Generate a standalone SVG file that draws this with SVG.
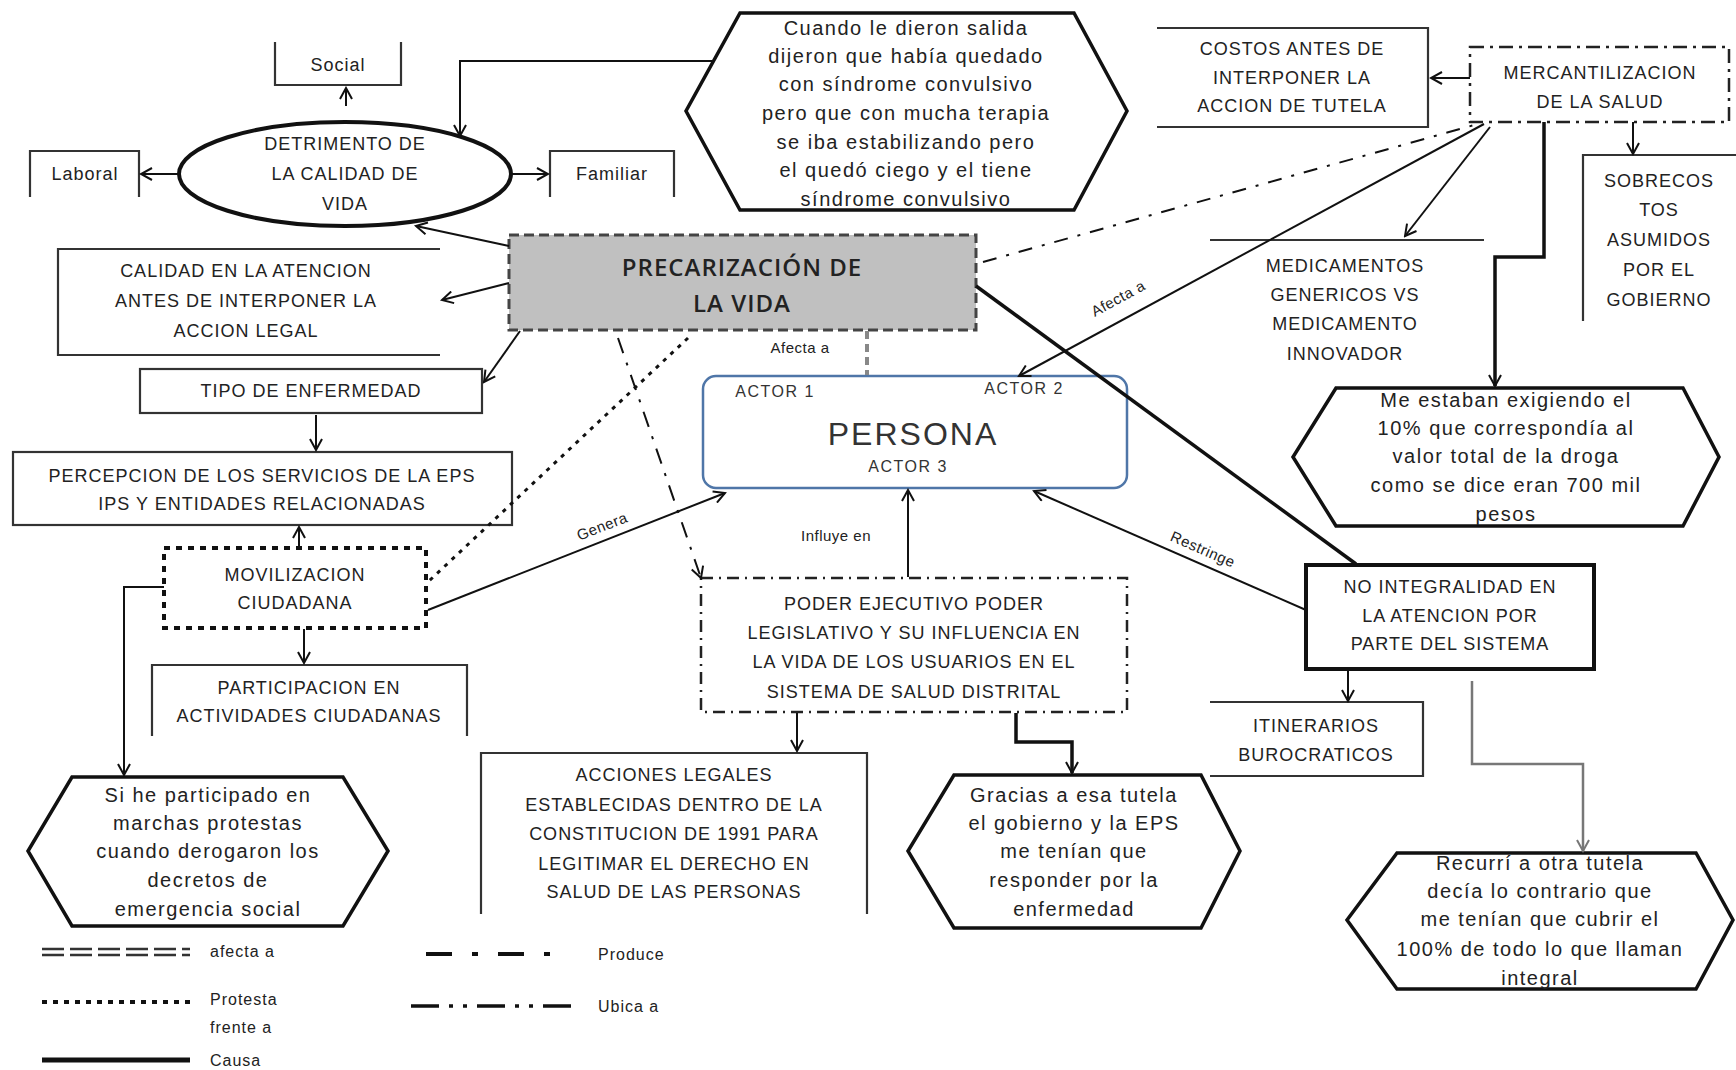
<svg xmlns="http://www.w3.org/2000/svg" width="1736" height="1070" viewBox="0 0 1736 1070">
<defs>
<style>
.box{fill:#fff;stroke:#333;stroke-width:2.2}
.open{fill:none;stroke:#333;stroke-width:2.2}
.hex{fill:#fff;stroke:#111;stroke-width:3.5}
.t{font-family:"Liberation Sans",Arial,sans-serif;font-size:18px;letter-spacing:1px;fill:#222;text-anchor:middle;dominant-baseline:central}
.tl{font-family:"Liberation Sans",Arial,sans-serif;font-size:20px;letter-spacing:1.5px;fill:#222;text-anchor:middle;dominant-baseline:central}
.lb{font-family:"Liberation Sans",Arial,sans-serif;font-size:15px;letter-spacing:0.5px;fill:#222;text-anchor:middle;dominant-baseline:central}
.lg{font-family:"Liberation Sans",Arial,sans-serif;font-size:16px;letter-spacing:1px;fill:#222;text-anchor:start;dominant-baseline:central}
.c{fill:none;stroke:#111;stroke-width:2}
.ck{fill:none;stroke:#111;stroke-width:3.5}
</style>
<marker id="arr" viewBox="0 0 14 14" markerWidth="14" markerHeight="14" refX="12" refY="7" orient="auto" markerUnits="userSpaceOnUse">
<path d="M1,1 L12,7 L1,13" fill="none" stroke="#111" stroke-width="2"/>
</marker>
<marker id="arrg" viewBox="0 0 14 14" markerWidth="14" markerHeight="14" refX="12" refY="7" orient="auto" markerUnits="userSpaceOnUse">
<path d="M1,1 L12,7 L1,13" fill="none" stroke="#777" stroke-width="2"/>
</marker>
</defs>
<rect width="1736" height="1070" fill="#fff"/>

<g id="social"><path class="open" d="M275,42 V85 H401 V42"/><text class="t" x="338" y="65">Social</text></g>
<g id="detrimento"><ellipse cx="345" cy="174" rx="166" ry="52" fill="#fff" stroke="#111" stroke-width="4"/>
<text class="t" x="345" y="144">DETRIMENTO DE</text><text class="t" x="345" y="174">LA CALIDAD DE</text><text class="t" x="345" y="204">VIDA</text></g>
<g id="laboral"><path class="open" d="M30,197 V151 H139 V197"/><text class="t" x="85" y="174">Laboral</text></g>
<g id="familiar"><path class="open" d="M550,197 V151 H674 V197"/><text class="t" x="612" y="174">Familiar</text></g>

<g id="hex-cuando"><polygon class="hex" points="740,13 1074,13 1127,111 1074,210 740,210 686,111"/>
<text class="tl" x="906" y="28">Cuando le dieron salida</text>
<text class="tl" x="906" y="56">dijeron que había quedado</text>
<text class="tl" x="906" y="84">con síndrome convulsivo</text>
<text class="tl" x="906" y="113">pero que con mucha terapia</text>
<text class="tl" x="906" y="142">se iba estabilizando pero</text>
<text class="tl" x="906" y="170">el quedó ciego y el tiene</text>
<text class="tl" x="906" y="199">síndrome convulsivo</text></g>

<g id="costos"><path class="open" d="M1157,28 H1428 V127 H1157"/>
<text class="t" x="1292" y="49">COSTOS ANTES DE</text><text class="t" x="1292" y="78">INTERPONER LA</text><text class="t" x="1292" y="106">ACCION DE TUTELA</text></g>

<g id="mercantilizacion"><rect x="1470" y="47" width="259" height="75" fill="#fff" stroke="#222" stroke-width="2.5" stroke-dasharray="14 6 3 6"/>
<text class="t" x="1600" y="73">MERCANTILIZACION</text><text class="t" x="1600" y="102">DE LA SALUD</text></g>

<g id="sobrecostos"><path class="open" d="M1583,321 V155 H1736"/>
<text class="t" x="1659" y="181">SOBRECOS</text><text class="t" x="1659" y="210">TOS</text><text class="t" x="1659" y="240">ASUMIDOS</text><text class="t" x="1659" y="270">POR EL</text><text class="t" x="1659" y="300">GOBIERNO</text></g>

<g id="medicamentos"><path class="open" d="M1210,240 H1484"/>
<text class="t" x="1345" y="266">MEDICAMENTOS</text><text class="t" x="1345" y="295">GENERICOS VS</text><text class="t" x="1345" y="324">MEDICAMENTO</text><text class="t" x="1345" y="354">INNOVADOR</text></g>

<g id="precarizacion"><rect x="509" y="235" width="467" height="95" fill="#c0c0c0" stroke="#444" stroke-width="3" stroke-dasharray="10 5"/>
<text x="742" y="266" font-family="'Open Sans',sans-serif" font-size="24" font-weight="600" letter-spacing="1" fill="#222" text-anchor="middle" dominant-baseline="central">PRECARIZACIÓN  DE</text>
<text x="742" y="302" font-family="'Open Sans',sans-serif" font-size="24" font-weight="600" letter-spacing="1" fill="#222" text-anchor="middle" dominant-baseline="central">LA VIDA</text></g>

<g id="calidad"><path class="open" d="M440,249 H58 V355 H440"/>
<text class="t" x="246" y="271">CALIDAD EN LA ATENCION</text><text class="t" x="246" y="301">ANTES DE INTERPONER LA</text><text class="t" x="246" y="331">ACCION LEGAL</text></g>

<g id="tipo"><rect class="box" x="140" y="369" width="342" height="44"/><text class="t" x="311" y="391">TIPO DE ENFERMEDAD</text></g>

<g id="percepcion"><rect class="box" x="13" y="452" width="499" height="73"/>
<text class="t" x="262" y="476">PERCEPCION DE LOS SERVICIOS DE LA EPS</text><text class="t" x="262" y="504">IPS Y ENTIDADES RELACIONADAS</text></g>

<g id="movilizacion"><rect x="164" y="548" width="262" height="80" fill="#fff" stroke="#111" stroke-width="4" stroke-dasharray="6 6"/>
<text class="t" x="295" y="575">MOVILIZACION</text><text class="t" x="295" y="603">CIUDADANA</text></g>

<g id="participacion"><path class="open" d="M152,736 V665 H467 V736"/>
<text class="t" x="309" y="688">PARTICIPACION EN</text><text class="t" x="309" y="716">ACTIVIDADES CIUDADANAS</text></g>

<g id="hex-marchas"><polygon class="hex" points="72,777 343,777 388,851 343,926 72,926 28,851"/>
<text class="tl" x="208" y="795">Si he participado en</text>
<text class="tl" x="208" y="823">marchas protestas</text>
<text class="tl" x="208" y="851">cuando derogaron los</text>
<text class="tl" x="208" y="880">decretos de</text>
<text class="tl" x="208" y="909">emergencia social</text></g>

<g id="persona"><rect x="703" y="376" width="424" height="112" rx="13" fill="#fff" stroke="#4f76a8" stroke-width="2.5"/>
<text x="775" y="391" font-family="'Liberation Sans',Arial,sans-serif" font-size="16" letter-spacing="1.5" fill="#333" text-anchor="middle" dominant-baseline="central">ACTOR 1</text>
<text x="1024" y="388" font-family="'Liberation Sans',Arial,sans-serif" font-size="16" letter-spacing="1.5" fill="#333" text-anchor="middle" dominant-baseline="central">ACTOR 2</text>
<text x="913" y="434" font-family="'Liberation Sans',Arial,sans-serif" font-size="32" letter-spacing="2" fill="#333" text-anchor="middle" dominant-baseline="central">PERSONA</text>
<text x="908" y="466" font-family="'Liberation Sans',Arial,sans-serif" font-size="16" letter-spacing="1.5" fill="#333" text-anchor="middle" dominant-baseline="central">ACTOR 3</text></g>

<g id="poder"><rect x="701" y="578" width="426" height="134" fill="#fff" stroke="#222" stroke-width="2.5" stroke-dasharray="12 6 2 6"/>
<text class="t" x="914" y="604">PODER EJECUTIVO PODER</text>
<text class="t" x="914" y="633">LEGISLATIVO Y SU INFLUENCIA EN</text>
<text class="t" x="914" y="662">LA VIDA DE LOS USUARIOS EN EL</text>
<text class="t" x="914" y="692">SISTEMA DE SALUD DISTRITAL</text></g>

<g id="acciones"><path class="open" d="M481,914 V753 H867 V914"/>
<text class="t" x="674" y="775">ACCIONES LEGALES</text>
<text class="t" x="674" y="805">ESTABLECIDAS DENTRO DE LA</text>
<text class="t" x="674" y="834">CONSTITUCION DE 1991 PARA</text>
<text class="t" x="674" y="864">LEGITIMAR EL DERECHO EN</text>
<text class="t" x="674" y="892">SALUD DE LAS PERSONAS</text></g>

<g id="hex-tutela"><polygon class="hex" points="954,775 1201,775 1240,851 1201,928 954,928 908,851"/>
<text class="tl" x="1074" y="795">Gracias a esa tutela</text>
<text class="tl" x="1074" y="823">el gobierno y la EPS</text>
<text class="tl" x="1074" y="851">me tenían que</text>
<text class="tl" x="1074" y="880">responder por la</text>
<text class="tl" x="1074" y="909">enfermedad</text></g>

<g id="hex-exigiendo"><polygon class="hex" points="1336,388 1683,388 1719,457 1683,526 1336,526 1293,457"/>
<text class="tl" x="1506" y="400">Me estaban exigiendo el</text>
<text class="tl" x="1506" y="428">10% que correspondía al</text>
<text class="tl" x="1506" y="456">valor total de la droga</text>
<text class="tl" x="1506" y="485">como se dice eran 700 mil</text>
<text class="tl" x="1506" y="514">pesos</text></g>

<g id="no-integralidad"><rect x="1306" y="565" width="288" height="104" fill="#fff" stroke="#111" stroke-width="4"/>
<text class="t" x="1450" y="587">NO INTEGRALIDAD EN</text><text class="t" x="1450" y="616">LA ATENCION POR</text><text class="t" x="1450" y="644">PARTE DEL SISTEMA</text></g>

<g id="itinerarios"><path class="open" d="M1210,702 H1423 V776 H1210"/>
<text class="t" x="1316" y="726">ITINERARIOS</text><text class="t" x="1316" y="755">BUROCRATICOS</text></g>

<g id="hex-integral"><polygon class="hex" points="1397,853 1696,853 1733,920 1696,989 1397,989 1347,920"/>
<text class="tl" x="1540" y="863">Recurrí a otra tutela</text>
<text class="tl" x="1540" y="891">decía lo contrario que</text>
<text class="tl" x="1540" y="919">me tenían que cubrir el</text>
<text class="tl" x="1540" y="949">100% de todo lo que llaman</text>
<text class="tl" x="1540" y="978">integral</text></g>

<g id="connectors">
<line class="c" x1="346" y1="106" x2="346" y2="88" marker-end="url(#arr)"/>
<line class="c" x1="179" y1="174" x2="141" y2="174" marker-end="url(#arr)"/>
<line class="c" x1="511" y1="174" x2="548" y2="174" marker-end="url(#arr)"/>
<polyline class="c" stroke-width="2.5" points="714,61 460,61 460,136" marker-end="url(#arr)"/>
<line class="c" x1="509" y1="246" x2="416" y2="226" marker-end="url(#arr)"/>
<line class="c" x1="509" y1="283" x2="442" y2="300" marker-end="url(#arr)"/>
<line class="c" x1="520" y1="331" x2="484" y2="382" marker-end="url(#arr)"/>
<line class="c" x1="316" y1="415" x2="316" y2="450" marker-end="url(#arr)"/>
<line class="c" x1="299" y1="548" x2="299" y2="527" marker-end="url(#arr)"/>
<line class="c" x1="304" y1="629" x2="304" y2="663" marker-end="url(#arr)"/>
<polyline class="c" points="164,587 124,587 124,775" marker-end="url(#arr)"/>
<line x1="688" y1="338" x2="429" y2="581" stroke="#111" stroke-width="3" stroke-dasharray="4 6"/>
<line class="c" x1="428" y1="610" x2="725" y2="493" marker-end="url(#arr)"/>
<text class="lb" x="602" y="526" transform="rotate(-21 602 526)">Genera</text>
<line class="c" x1="618" y1="338" x2="701" y2="578" stroke-dasharray="16 10 3 10" marker-end="url(#arr)"/>
<line x1="867" y1="331" x2="867" y2="375" stroke="#888" stroke-width="4" stroke-dasharray="8 5"/>
<text class="lb" x="800" y="347">Afecta a</text>
<line class="c" x1="908" y1="577" x2="908" y2="490" marker-end="url(#arr)"/>
<text class="lb" x="836" y="535">Influye en</text>
<line class="c" x1="797" y1="713" x2="797" y2="751" marker-end="url(#arr)"/>
<polyline class="ck" points="1016,713 1016,742 1072,742 1072,773" marker-end="url(#arr)"/>
<line class="ck" x1="976" y1="286" x2="1356" y2="564"/>
<line class="c" x1="1484" y1="124" x2="1019" y2="376" marker-end="url(#arr)"/>
<text class="lb" x="1118" y="298" transform="rotate(-28.5 1118 298)">Afecta a</text>
<line class="c" x1="983" y1="262" x2="1478" y2="124" stroke-dasharray="14 10 3 10"/>
<line class="c" x1="1490" y1="127" x2="1405" y2="236" marker-end="url(#arr)"/>
<polyline class="ck" points="1544,122 1544,257 1495,257 1495,386" marker-end="url(#arr)"/>
<line class="c" x1="1633" y1="122" x2="1633" y2="154" marker-end="url(#arr)"/>
<line class="c" x1="1470" y1="78" x2="1431" y2="78" marker-end="url(#arr)"/>
<line class="c" x1="1306" y1="610" x2="1034" y2="491" marker-end="url(#arr)"/>
<text class="lb" x="1203" y="549" transform="rotate(23.5 1203 549)">Restringe</text>
<line class="c" x1="1348" y1="669" x2="1348" y2="701" marker-end="url(#arr)"/>
<polyline points="1472,681 1472,764 1583,764 1583,851" fill="none" stroke="#777" stroke-width="2.5" marker-end="url(#arrg)"/>
</g>

<g id="legend">
<line x1="42" y1="949" x2="190" y2="949" stroke="#333" stroke-width="2.5" stroke-dasharray="22 6"/>
<line x1="42" y1="955" x2="190" y2="955" stroke="#333" stroke-width="2.5" stroke-dasharray="22 6"/>
<text class="lg" x="210" y="951">afecta a</text>
<line x1="42" y1="1002" x2="190" y2="1002" stroke="#111" stroke-width="4" stroke-dasharray="5 6"/>
<text class="lg" x="210" y="999">Protesta</text>
<text class="lg" x="210" y="1027">frente a</text>
<line x1="42" y1="1060" x2="190" y2="1060" stroke="#111" stroke-width="5"/>
<text class="lg" x="210" y="1060">Causa</text>
<line x1="426" y1="954" x2="567" y2="954" stroke="#111" stroke-width="4" stroke-dasharray="26 20 6 20"/>
<text class="lg" x="598" y="954">Produce</text>
<line x1="411" y1="1006" x2="578" y2="1006" stroke="#111" stroke-width="3.5" stroke-dasharray="28 10 4 10 4 10"/>
<text class="lg" x="598" y="1006">Ubica a</text>
</g>
</svg>
